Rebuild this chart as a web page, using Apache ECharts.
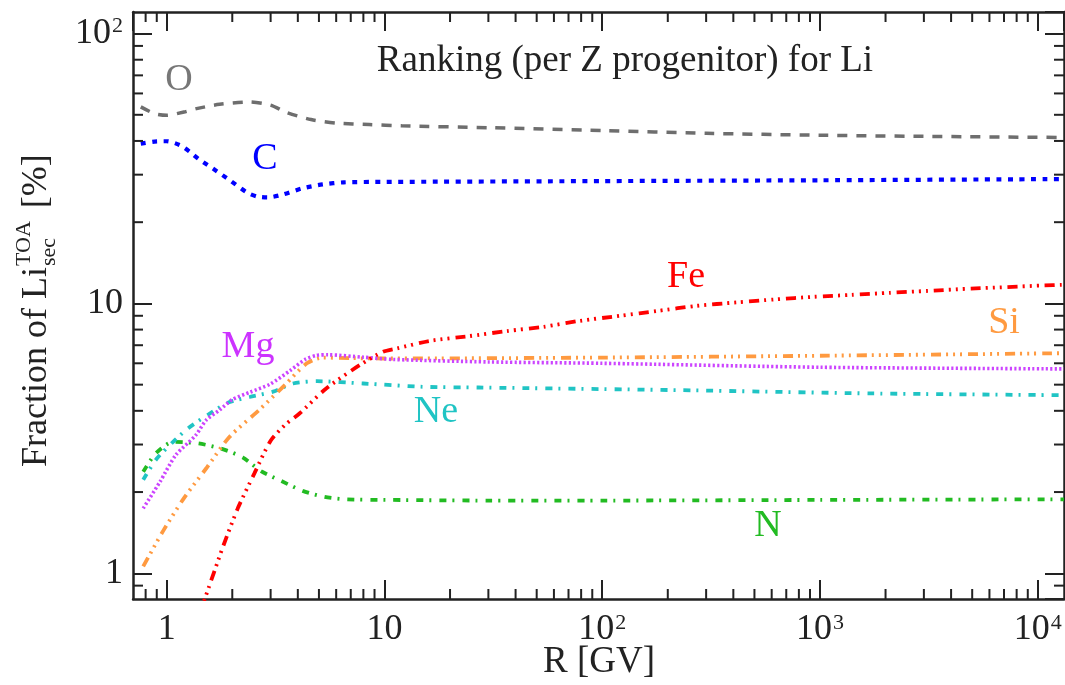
<!DOCTYPE html>
<html><head><meta charset="utf-8">
<script src="https://cdn.jsdelivr.net/npm/echarts@6/dist/echarts.min.js"></script>
<style>html,body{margin:0;padding:0;background:#fff}#c{width:1065px;height:685px}</style>
</head><body><div id="c"></div>
<script>
// ---- data (R in GV, fraction in %) ----
const rO = [0.76, 0.88, 1.0, 1.2, 1.37, 1.75, 2.4, 3.0, 3.55, 4.6, 6.0, 8.5, 12, 30, 100, 300, 1000, 3000, 13200];
const vO = [53.5, 50.5, 49.8, 51.2, 52.7, 54.7, 55.8, 54.3, 51, 48, 46.6, 46, 45.5, 44.8, 43.7, 42.7, 42, 41.6, 41.2];
const rC = [0.76, 0.88, 1.0, 1.15, 1.28, 1.4, 1.63, 1.95, 2.33, 2.6, 2.9, 3.4, 4.2, 5.2, 6.5, 10, 100, 1000, 13200];
const vC = [39.1, 39.8, 39.9, 38.6, 36.4, 34.3, 31.6, 28.6, 25.8, 24.9, 24.7, 25.3, 26.7, 27.6, 28.1, 28.2, 28.4, 28.6, 28.9];
const rFe = [1.4, 1.5, 1.81, 2.12, 2.53, 3.0, 3.5, 4.07, 5.4, 7.7, 9.85, 11.4, 16.2, 24.3, 36.5, 53.7, 79, 121, 181, 272, 415, 622, 934, 1400, 2100, 3150, 4730, 7100, 10640, 13200];
const vFe = [0.7, 0.81, 1.25, 1.74, 2.35, 3.1, 3.55, 3.91, 4.84, 5.91, 6.62, 6.81, 7.27, 7.56, 7.9, 8.19, 8.62, 9.0, 9.39, 9.8, 10.09, 10.35, 10.58, 10.76, 10.95, 11.13, 11.33, 11.49, 11.66, 11.72];
const rSi = [0.78, 0.96, 1.2, 1.52, 1.94, 2.65, 3.5, 4.4, 5.2, 7, 10, 100, 1000, 13200];
const vSi = [1.06, 1.43, 1.9, 2.45, 3.2, 4.02, 5.0, 6.0, 6.3, 6.27, 6.25, 6.3, 6.4, 6.54];
const rMg = [0.78, 0.93, 1.1, 1.36, 1.52, 1.75, 2.0, 2.41, 2.98, 3.7, 4.32, 4.88, 5.5, 8, 11, 30, 100, 1000, 13200];
const vMg = [1.74, 2.18, 2.74, 3.25, 3.7, 4.03, 4.4, 4.69, 5.02, 5.65, 6.2, 6.42, 6.45, 6.32, 6.2, 6.07, 6.0, 5.8, 5.72];
const rNe = [0.78, 0.89, 1.07, 1.25, 1.54, 1.93, 2.4, 3.08, 3.8, 4.9, 8, 15, 27, 230, 1700, 13200];
const vNe = [2.22, 2.63, 3.07, 3.44, 3.86, 4.3, 4.5, 4.71, 5.05, 5.15, 5.05, 4.91, 4.88, 4.77, 4.64, 4.57];
const rN = [0.78, 0.89, 1.07, 1.39, 1.77, 2.23, 2.71, 3.35, 4.21, 5.3, 6.67, 10.6, 30, 100, 1000, 13200];
const vN = [2.38, 2.78, 3.07, 3.03, 2.9, 2.69, 2.39, 2.2, 2.02, 1.92, 1.88, 1.87, 1.86, 1.86, 1.87, 1.88];

const xMinorTicks = [0.8, 0.9, 2, 3, 4, 5, 6, 7, 8, 9, 20, 30, 40, 50, 60, 70, 80, 90, 200, 300, 400, 500, 600, 700, 800, 900, 2000, 3000, 4000, 5000, 6000, 7000, 8000, 9000];
const yMinorTicks = [0.9, 2, 3, 4, 5, 6, 7, 8, 9, 20, 30, 40, 50, 60, 70, 80, 90];

const FONT = 'Liberation Serif';
const AX = '#222';

function zip(a, b) { return a.map((x, i) => [x, b[i]]); }
function powLabel(v) {
  const l = Math.log10(v), e = Math.round(l);
  if (Math.abs(l - e) > 1e-6) return '';
  if (e === 0) return '1';
  if (e === 1) return '10';
  return '10{sup|' + e + '}';
}
const labelRich = { sup: { fontSize: 22, fontFamily: FONT, color: AX, verticalAlign: 'top', padding: [0, 0, 0, 1] } };

function axisCommon(extra) {
  return Object.assign({
    type: 'log', logBase: 10,
    axisLine: { show: true, lineStyle: { color: AX, width: 2.5 } },
    axisTick: { show: true, inside: true, length: 19, lineStyle: { color: AX, width: 2 } },
    splitLine: { show: false },
    minorTick: { show: false }
  }, extra);
}

const chart = echarts.init(document.getElementById('c'), null, { renderer: 'canvas' });

function lineSeries(name, data, color, dash, width) {
  return {
    name, type: 'line', data, xAxisIndex: 0, yAxisIndex: 0,
    showSymbol: false, symbol: 'none', smooth: 0.25, clip: true,
    lineStyle: { color, width: width || 3.5, type: dash, cap: 'butt' },
    z: 3
  };
}

function minorTickSeries(vals, dir) {
  return {
    type: 'custom', coordinateSystem: 'cartesian2d', xAxisIndex: 0, yAxisIndex: 0,
    data: vals.map(v => dir === 'x' ? [v, 1] : [1, v]),
    silent: true, clip: false, z: 4,
    renderItem: function (params, api) {
      const cs = params.coordSys;
      const p = api.coord([api.value(0), api.value(1)]);
      const L = 10;
      const st = { stroke: AX, lineWidth: 2 };
      if (dir === 'x') {
        const b = cs.y + cs.height, t = cs.y;
        return { type: 'group', children: [
          { type: 'line', shape: { x1: p[0], y1: b, x2: p[0], y2: b - L }, style: st },
          { type: 'line', shape: { x1: p[0], y1: t, x2: p[0], y2: t + L }, style: st }
        ]};
      } else {
        const l = cs.x, r = cs.x + cs.width;
        return { type: 'group', children: [
          { type: 'line', shape: { x1: l, y1: p[1], x2: l + L, y2: p[1] }, style: st },
          { type: 'line', shape: { x1: r, y1: p[1], x2: r - L, y2: p[1] }, style: st }
        ]};
      }
    }
  };
}

const dashFe = [10, 5, 2, 5, 2, 5, 2, 6];
const dashDot = [7, 6, 2, 8];

function txt(x, y, text, color, size) {
  return {
    type: 'text', x, y, silent: true, z: 10,
    style: { text, fill: color, fontSize: size || 37, fontFamily: FONT, align: 'center', verticalAlign: 'middle' }
  };
}

// measure the y title pieces
const mctx = document.createElement('canvas').getContext('2d');
function tw(s, size) { mctx.font = size + 'px "' + FONT + '"'; return mctx.measureText(s).width; }
const YT = 36, YS = 22;
const w1 = tw('Fraction of Li', YT);
const w2 = Math.max(tw('TOA', YS), tw('sec', YS));

const option = {
  animation: false,
  backgroundColor: '#fff',
  grid: { left: 133, right: 1, top: 12, bottom: 86, containLabel: false, outerBoundsMode: 'none' },
  xAxis: [
    axisCommon({ position: 'bottom', min: 0.7, max: 13200,
      axisLabel: { show: true, margin: 13, fontSize: 36, fontFamily: FONT, color: AX, formatter: powLabel, rich: labelRich, showMinLabel: false, showMaxLabel: false }
    }),
    axisCommon({ position: 'top', min: 0.7, max: 13200, axisLabel: { show: false } })
  ],
  yAxis: [
    axisCommon({ position: 'left', min: 0.803, max: 120.2,
      axisLabel: { show: true, margin: 10, fontSize: 36, fontFamily: FONT, color: AX, formatter: powLabel, rich: labelRich, showMinLabel: false, showMaxLabel: false }
    }),
    axisCommon({ position: 'right', min: 0.803, max: 120.2, axisLabel: { show: false } })
  ],
  series: [
    lineSeries('O', zip(rO, vO), '#6e6e6e', [10, 9], 3.5),
    lineSeries('C', zip(rC, vC), '#0000ff', [5, 6.5], 4.2),
    lineSeries('N', zip(rN, vN), '#22bb22', dashDot, 3.8),
    lineSeries('Ne', zip(rNe, vNe), '#20c4c4', dashDot, 3.8),
    lineSeries('Si', zip(rSi, vSi), '#ff9a40', dashFe, 3.8),
    lineSeries('Mg', zip(rMg, vMg), '#cc44ff', [2.2, 2.3], 3.6),
    lineSeries('Fe', zip(rFe, vFe), '#ff0000', dashFe, 3.8),
    minorTickSeries(xMinorTicks, 'x'),
    minorTickSeries(yMinorTicks, 'y')
  ],
  graphic: [
    txt(625, 61, 'Ranking (per Z progenitor) for Li', '#222', 37),
    txt(599, 662, 'R [GV]', '#222', 37),
    txt(179, 80, 'O', '#777777', 38),
    txt(265, 159, 'C', '#0000ff', 38),
    txt(686, 277, 'Fe', '#ff0000', 38),
    txt(1004, 323, 'Si', '#ff9a40', 38),
    txt(248, 347, 'Mg', '#cc33ff', 38),
    txt(436, 412, 'Ne', '#1fc4c4', 38),
    txt(768, 526, 'N', '#22bb22', 38),
    { type: 'group', x: 37, y: 467, rotation: Math.PI / 2, silent: true, children: [
      { type: 'text', x: 0, y: 0, style: { text: 'Fraction of Li', fill: '#222', fontSize: YT, fontFamily: FONT, align: 'left', verticalAlign: 'middle' } },
      { type: 'text', x: w1 + 1, y: -13, style: { text: 'TOA', fill: '#222', fontSize: YS, fontFamily: FONT, align: 'left', verticalAlign: 'middle' } },
      { type: 'text', x: w1 + 1, y: 12, style: { text: 'sec', fill: '#222', fontSize: YS, fontFamily: FONT, align: 'left', verticalAlign: 'middle' } },
      { type: 'text', x: w1 + w2 + 14, y: 0, style: { text: '[%]', fill: '#222', fontSize: YT, fontFamily: FONT, align: 'left', verticalAlign: 'middle' } }
    ]}
  ]
};
chart.setOption(option);
</script>
</body></html>
